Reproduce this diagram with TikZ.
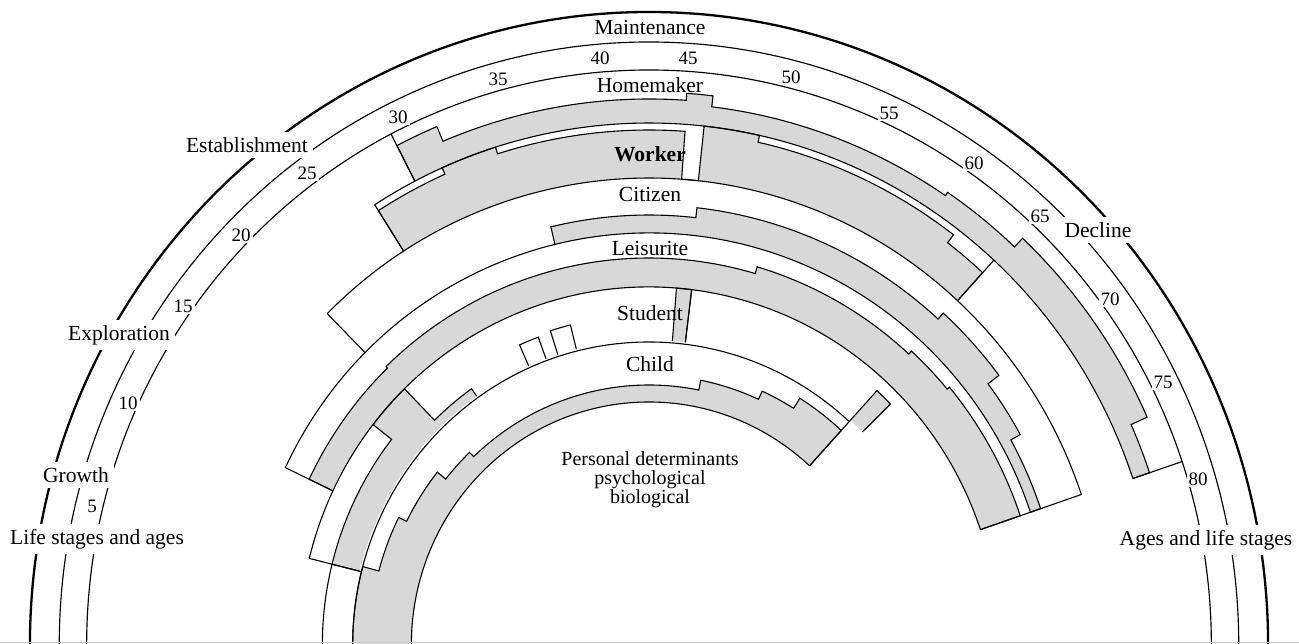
\documentclass[tikz,border=0pt]{standalone}
\usepackage{fontspec}
\setmainfont{Liberation Serif}
\definecolor{shadegray}{RGB}{216,216,216}
% stepped role profile: #1 first angle, #2 last angle, #3 inner radius, #4 list a/b/r
\newcommand{\roleprofile}[4]{%
  \fill[shadegray] (#1:#3) \foreach \a/\b/\r in {#4}{ -- (\a:\r) arc[start angle=\a,end angle=\b,radius=\r]} -- (#2:#3) arc[start angle=#2,end angle=#1,radius=#3] -- cycle;
  \draw[edge] (#1:#3) \foreach \a/\b/\r in {#4}{ -- (\a:\r) arc[start angle=\a,end angle=\b,radius=\r]} -- (#2:#3);}
\newcommand{\ringarc}[3]{(#1:#3) arc[start angle=#1,end angle=#2,radius=#3]}
\begin{document}
\begin{tikzpicture}[x=1pt,y=1pt,
  edge/.style={line width=1.1pt},
  ring/.style={line width=1.15pt},
  outerring/.style={line width=2.3pt},
  lab/.style={font=\fontsize{21.5}{24}\selectfont, inner sep=2pt},
  stagelab/.style={lab, fill=white, inner sep=5pt},
  agenum/.style={font=\fontsize{19}{21}\selectfont, fill=white, inner sep=2pt}]
\useasboundingbox (0,0) rectangle (1299,644);
\begin{scope}[shift={(649,-1)}, xscale=0.978]
  % shaded parts of the roles
  \roleprofile{117.3}{18.6}{522}{117.3/112.7/562, 112.7/86/546, 86/83.2/553, 83.2/56/542, 56/46.8/546, 46.8/24.1/558, 24.1/18.6/540}
  \roleprofile{122.5}{47.5}{467}{122.5/113.9/515, 113.9/107.5/522, 107.5/85.9/515, 85.9/83.8/467, 83.8/77.5/522, 77.5/52.8/515, 52.8/47.5/505}
  \roleprofile{103.5}{18.8}{412}{103.5/83.6/430, 83.6/47.8/440, 47.8/37/448, 37/29/434, 29/18.8/423}
  \roleprofile{154.5}{18.8}{358}{154.5/134/385, 134/73.7/387, 73.7/47.6/394, 47.6/40/398, 40/18.8/401}
  \roleprofile{166}{125.3}{305}{166/142/334, 142/134.3/358, 134.3/125.3/314}
  \roleprofile{85.5}{83}{305}{85.5/83/358}
  \roleprofile{180}{47.5}{243}{180/165/303, 165/153.5/286, 153.5/141.4/277, 141.4/133.6/266, 133.6/78.7/260, 78.7/65.5/270, 65.5/58/279, 58/47.5/291}
  % late student episode
  \fill[shadegray] \ringarc{47.5}{44.3}{345} -- (44.3:305) arc[start angle=44.3,end angle=47.5,radius=305] -- cycle;
  \draw[edge] (47.5:305) -- \ringarc{47.5}{44.3}{345} -- (44.3:305);
  % short courses
  \draw[edge] (113.8:305) -- \ringarc{113.8}{110.2}{328} -- (110.2:305);
  \draw[edge] (107.8:305) -- \ringarc{107.8}{104.1}{330} -- (104.1:305);
  % role band edges
  \draw[edge] \ringarc{122.5}{18.6}{522};
  \draw[edge] \ringarc{134.8}{18.8}{467};
  \draw[edge] \ringarc{154.5}{18.8}{412};
  \draw[edge] \ringarc{166}{18.8}{358};
  \draw[edge] \ringarc{180}{166}{334};
  \draw[edge] \ringarc{180}{47.5}{303};
  \draw[edge] \ringarc{180}{47.5}{243};
  % band ends
  \draw[edge] (117.3:575) -- (117.3:522);
  \draw[edge] (18.6:575) -- (18.6:522);
  \draw[edge] (122.5:522) -- (122.5:467);
  \draw[edge] (47.5:522) -- (47.5:467);
  \draw[edge] (134.8:467) -- (134.8:412);
  \draw[edge] (154.5:412) -- (154.5:358);
  \draw[edge] (18.8:467) -- (18.8:358);
  \draw[edge] (166:358) -- (166:303);
  \draw[edge] (83:358) -- (83:305);
  \draw[edge] (47.5:305) -- (47.5:243);
  % life stage rings
  \draw[outerring] \ringarc{180}{0}{633};
  \draw[ring] \ringarc{180}{0}{603};
  \draw[ring] \ringarc{180}{0}{575};
\end{scope}
\draw[black!22, line width=0.8pt] (0,2) -- (1299,2);
% role names
\node[lab] (homemaker) at (650,559) {Homemaker};
\node[lab, font=\fontsize{21.5}{24}\selectfont\bfseries] (worker) at (650,490) {Worker};
\node[lab] (citizen) at (650,450) {Citizen};
\node[lab] (leisurite) at (650,396) {Leisurite};
\node[lab] (student) at (650,331) {Student};
\node[lab] (child) at (650,280) {Child};
\node[lab, align=center, font=\fontsize{20}{19}\selectfont] (personal) at (650,164) {Personal determinants\\psychological\\biological};
% life stages
\node[lab] (maintenance) at (650,617) {Maintenance};
\node[stagelab] (establishment) at (247,499) {Establishment};
\node[stagelab] (exploration) at (119,309) {Exploration};
\node[stagelab] (growth) at (76,169) {Growth};
\node[stagelab] (stagesleft) at (97,105) {Life stages and ages};
\node[stagelab] (decline) at (1098,414) {Decline};
\node[stagelab] (stagesright) at (1206,104) {Ages and life stages};
% ages
\node[agenum] (a5) at (92,138) {5};
\node[agenum] (a10) at (128,241) {10};
\node[agenum] (a15) at (183,338) {15};
\node[agenum] (a20) at (241,409) {20};
\node[agenum] (a25) at (307,471) {25};
\node[agenum] (a30) at (398,527) {30};
\node[agenum] (a35) at (498,565) {35};
\node[agenum] (a40) at (600,586) {40};
\node[agenum] (a45) at (688,586) {45};
\node[agenum] (a50) at (791,567) {50};
\node[agenum] (a55) at (889,531) {55};
\node[agenum] (a60) at (974,481) {60};
\node[agenum] (a65) at (1040,428) {65};
\node[agenum] (a70) at (1110,345) {70};
\node[agenum] (a75) at (1163,262) {75};
\node[agenum] (a80) at (1198,165) {80};
\end{tikzpicture}
\end{document}
